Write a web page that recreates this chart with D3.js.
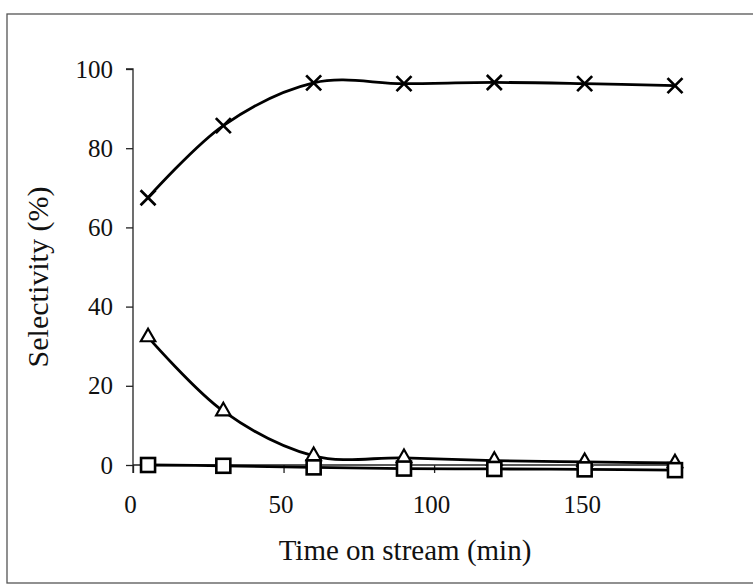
<!DOCTYPE html>
<html>
<head>
<meta charset="utf-8">
<script src="https://cdn.jsdelivr.net/npm/d3@7"></script>
<style>
  html, body { margin: 0; padding: 0; background: #ffffff; }
  svg { display: block; }
  text { font-family: "Liberation Serif", "Times New Roman", serif; fill: #111; }
</style>
</head>
<body>
<svg id="chart" width="753" height="587"></svg>
<script>
// ---- data ----
const times = [5, 30, 60, 90, 120, 150, 180];
const selectivityCross = [67.5, 85.7, 96.5, 96.3, 96.6, 96.3, 95.8];
const selectivityTriangle = [32.3, 13.6, 2.3, 1.8, 1.1, 0.8, 0.5];
const selectivitySquare = [0, -0.2, -0.6, -0.9, -1.0, -1.1, -1.3];
const xTicks = [0, 50, 100, 150];
const yTicks = [0, 20, 40, 60, 80, 100];
const xTitle = "Time on stream (min)";
const yTitle = "Selectivity (%)";

// ---- layout ----
const svg = d3.select("#chart");
const x = d3.scaleLinear().domain([0, 181]).range([133, 678]);
const y = d3.scaleLinear().domain([0, 100]).range([465, 69]);

// outer frame
svg.append("rect")
  .attr("x", 7).attr("y", 14).attr("width", 800).attr("height", 569)
  .attr("fill", "none").attr("stroke", "#555").attr("stroke-width", 1.3);

// y axis
const yAxis = svg.append("g")
  .attr("transform", `translate(${x(0)},0)`)
  .call(d3.axisLeft(y).tickValues(yTicks).tickSize(7).tickPadding(13).tickFormat(d3.format("d")));
yAxis.select(".domain").attr("stroke", "#222").attr("stroke-width", 1.3).attr("d", `M-7,${y(100)}H0V${y(0) + 8}`);
yAxis.selectAll(".tick line").attr("stroke", "#222").attr("stroke-width", 1.3);
yAxis.selectAll(".tick text").style("font-size", "25px").attr("fill", "#111");

// x axis
const xAxis = svg.append("g")
  .attr("transform", `translate(0,${y(0)})`)
  .call(d3.axisBottom(x).tickValues(xTicks).tickSize(8).tickPadding(22).tickFormat(d3.format("d")));
xAxis.select(".domain").attr("stroke", "#222").attr("stroke-width", 1.3).attr("d", `M${x(0)},0H${x(180)}`);
xAxis.selectAll(".tick line").attr("stroke", "#222").attr("stroke-width", 1.3);
xAxis.selectAll(".tick text").style("font-size", "25px").attr("fill", "#111").attr("dx", "-3");

// titles
svg.append("text")
  .attr("x", 405).attr("y", 560)
  .attr("text-anchor", "middle")
  .style("font-size", "29px")
  .text(xTitle);
svg.append("text")
  .attr("transform", "translate(48,277) rotate(-90)")
  .attr("text-anchor", "middle")
  .style("font-size", "30px")
  .text(yTitle);

// series
const line = d3.line()
  .x(d => x(d[0]))
  .y(d => y(d[1]))
  .curve(d3.curveCardinal.tension(0));

function pts(vals) { return times.map((t, i) => [t, vals[i]]); }

const crossPts = pts(selectivityCross);
const triPts = pts(selectivityTriangle);
const sqPts = pts(selectivitySquare);

[crossPts, triPts, sqPts].forEach(p => {
  svg.append("path")
    .datum(p)
    .attr("d", line)
    .attr("fill", "none")
    .attr("stroke", "#000")
    .attr("stroke-width", 2.8);
});

// cross markers
const cs = 7.5;
svg.append("g").selectAll("path")
  .data(crossPts).join("path")
  .attr("d", d => {
    const cx = x(d[0]), cy = y(d[1]);
    return `M${cx - cs},${cy - cs}L${cx + cs},${cy + cs}M${cx - cs},${cy + cs}L${cx + cs},${cy - cs}`;
  })
  .attr("stroke", "#000").attr("stroke-width", 2.7).attr("fill", "none");

// triangle markers
const tr = d3.symbol().type(d3.symbolTriangle).size(90);
svg.append("g").selectAll("path")
  .data(triPts).join("path")
  .attr("transform", d => `translate(${x(d[0])},${y(d[1])})`)
  .attr("d", tr)
  .attr("fill", "#fff").attr("stroke", "#000").attr("stroke-width", 2.2);

// square markers
const sq = 14;
svg.append("g").selectAll("rect")
  .data(sqPts).join("rect")
  .attr("x", d => x(d[0]) - sq / 2)
  .attr("y", d => y(d[1]) - sq / 2)
  .attr("width", sq).attr("height", sq)
  .attr("fill", "#fff").attr("stroke", "#000").attr("stroke-width", 2.6);
</script>
</body>
</html>
